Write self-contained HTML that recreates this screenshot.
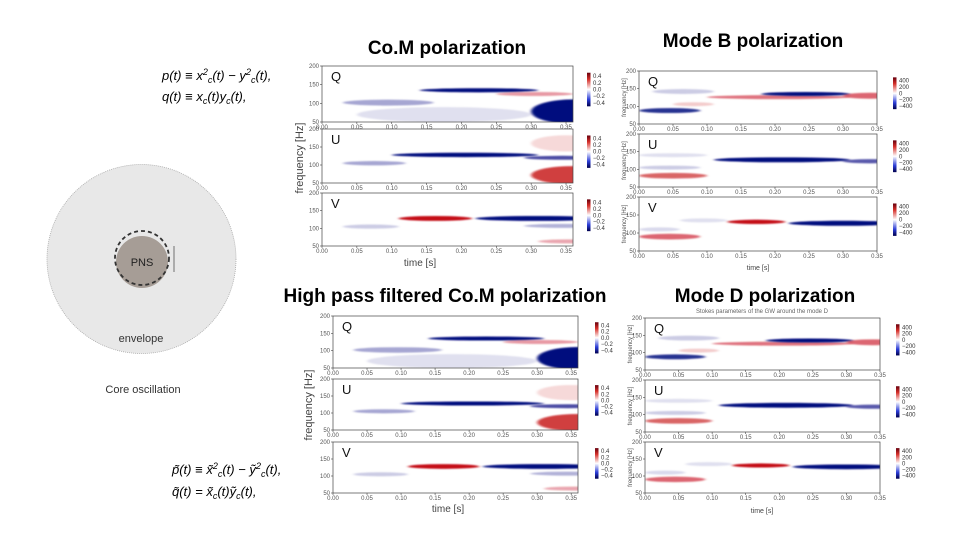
<!DOCTYPE html>
<html><head><meta charset="utf-8"><style>
body{margin:0;background:#fff;}
svg text{font-family:"Liberation Sans",sans-serif;}
</style></head><body>
<svg id="s" width="960" height="540" xmlns="http://www.w3.org/2000/svg">
<defs>
<filter id="bl" x="-30%" y="-100%" width="160%" height="300%"><feGaussianBlur stdDeviation="1.6 0.9"/></filter>
<linearGradient id="cb" x1="0" y1="0" x2="0" y2="1">
<stop offset="0" stop-color="#67000d"/><stop offset="0.2" stop-color="#d6302a"/><stop offset="0.5" stop-color="#ffffff"/><stop offset="0.8" stop-color="#2a3cd6"/><stop offset="1" stop-color="#00004d"/>
</linearGradient>
</defs>
<text x="447" y="54" font-size="19" font-weight="bold" text-anchor="middle">Co.M polarization</text>
<text x="753" y="47" font-size="19" font-weight="bold" text-anchor="middle">Mode B polarization</text>
<text x="445" y="302" font-size="19" font-weight="bold" text-anchor="middle">High pass filtered Co.M polarization</text>
<text x="765" y="302" font-size="19" font-weight="bold" text-anchor="middle">Mode D polarization</text>
<text x="762" y="313" font-size="6" fill="#666" text-anchor="middle">Stokes parameters of the GW around the mode D</text>
<g font-family="Liberation Serif,serif" font-style="italic" font-size="13">
<text x="162" y="80">p(t) ≡ x<tspan font-size="9" dy="-5">2</tspan><tspan font-size="9" dy="8">c</tspan><tspan dy="-3">(t) − y</tspan><tspan font-size="9" dy="-5">2</tspan><tspan font-size="9" dy="8">c</tspan><tspan dy="-3">(t),</tspan></text>
<text x="162" y="101">q(t) ≡ x<tspan font-size="9" dy="3">c</tspan><tspan dy="-3">(t)y</tspan><tspan font-size="9" dy="3">c</tspan><tspan dy="-3">(t),</tspan></text>
</g>
<g font-family="Liberation Serif,serif" font-style="italic" font-size="13">
<text x="172" y="474">p̃(t) ≡ x̃<tspan font-size="9" dy="-5">2</tspan><tspan font-size="9" dy="8">c</tspan><tspan dy="-3">(t) − ỹ</tspan><tspan font-size="9" dy="-5">2</tspan><tspan font-size="9" dy="8">c</tspan><tspan dy="-3">(t),</tspan></text>
<text x="172" y="496">q̃(t) = x̃<tspan font-size="9" dy="3">c</tspan><tspan dy="-3">(t)ỹ</tspan><tspan font-size="9" dy="3">c</tspan><tspan dy="-3">(t),</tspan></text>
</g>
<g>
<circle cx="141.5" cy="259" r="94.5" fill="#e8e8e8" stroke="#aaa" stroke-width="0.8" stroke-dasharray="1 1"/>
<circle cx="142" cy="262" r="26" fill="#a69d96"/>
<circle cx="142" cy="258" r="27" fill="none" stroke="#333" stroke-width="1.8" stroke-dasharray="4 3"/>
<line x1="174" y1="246" x2="174" y2="272" stroke="#999" stroke-width="1.5"/>
<text x="142" y="266" font-size="11" text-anchor="middle" fill="#222">PNS</text>
<text x="141" y="342" font-size="11" text-anchor="middle" fill="#333">envelope</text>
<text x="143" y="393" font-size="11" text-anchor="middle" fill="#333">Core oscillation</text>
</g>
<g id="charts"></g>
</svg>
<script>
// CoM polarization blobs: start time, end time, frequency (Hz), amplitude, bandwidth (Hz)
const comQStart=[0.03,0.14,0.25,0.30,0.05];
const comQEnd=[0.16,0.31,0.36,0.42,0.30];
const comQFreq=[102,135,125,78,70];
const comQAmp=[-0.35,-1.0,0.4,-1.0,-0.12];
const comQBand=[16,11,6,65,40];
const comUStart=[0.03,0.10,0.30,0.29,0.30];
const comUEnd=[0.12,0.31,0.42,0.40,0.40];
const comUFreq=[105,128,72,120,160];
const comUAmp=[-0.35,-1.0,0.8,-0.7,0.15];
const comUBand=[12,12,50,9,45];
const comVStart=[0.03,0.11,0.22,0.29,0.31];
const comVEnd=[0.11,0.215,0.40,0.40,0.40];
const comVFreq=[105,128,128,107,63];
const comVAmp=[-0.2,1.0,-1.0,-0.3,0.35];
const comVBand=[12,14,14,6,7];
// Mode B / Mode D polarization blobs
const modeQStart=[0.0,0.02,0.05,0.10,0.18,0.30];
const modeQEnd=[0.09,0.11,0.11,0.31,0.31,0.38];
const modeQFreq=[88,142,106,126,135,130];
const modeQAmp=[-0.85,-0.2,0.2,0.55,-1.0,0.6];
const modeQBand=[14,14,9,8,9,17];
const modeUStart=[0.0,0.0,0.11,0.30,0.0];
const modeUEnd=[0.10,0.09,0.31,0.38,0.1];
const modeUFreq=[82,105,127,123,140];
const modeUAmp=[0.65,-0.2,-1.0,-0.65,-0.12];
const modeUBand=[16,7,14,12,10];
const modeVStart=[0.0,0.13,0.22,0.06,0.0];
const modeVEnd=[0.09,0.215,0.38,0.13,0.06];
const modeVFreq=[90,131,127,135,110];
const modeVAmp=[0.6,1.0,-1.0,-0.12,-0.15];
const modeVBand=[16,12,14,6,6];
const comTicks=['0.00','0.05','0.10','0.15','0.20','0.25','0.30','0.35'];
const freqTicks=['50','100','150','200'];
const comCbTicks=['0.4','0.2','0.0','−0.2','−0.4'];
const modeCbTicks=['400','200','0','−200','−400'];

const NS='http://www.w3.org/2000/svg';
const root=document.getElementById('charts');
function mk(tag,attrs,parent){const e=document.createElementNS(NS,tag);for(const k in attrs)e.setAttribute(k,attrs[k]);(parent||root).appendChild(e);return e;}

function panel(id,label,box,tmax,st,en,fr,am,bw,cbX,cbTicks,showXLabels,smallYLabel){
  const g=mk('g',{});
  
  
  const xs=t=>box.x+t/tmax*box.w;
  const ys=f=>box.y+box.h-(f-50)/150*box.h;
  const cp=mk('clipPath',{id:'c'+id},g);
  mk('rect',{x:box.x,y:box.y,width:box.w,height:box.h},cp);
  const bg=mk('g',{'clip-path':'url(#c'+id+')'},g);
  mk('rect',{x:box.x,y:box.y,width:box.w,height:box.h,fill:'#fff'},bg);
  for(let i=0;i<st.length;i++){
    const x0=xs(st[i]),x1=xs(en[i]);
    const e=mk('ellipse',{cx:(x0+x1)/2,cy:ys(fr[i]),rx:(x1-x0)/2,ry:Math.max(2,bw[i]/150*box.h/2),
      fill:am[i]>0?'#c40a14':'#00087e','fill-opacity':Math.min(1,Math.abs(am[i])),filter:'url(#bl)'},bg);
    
    
  }
  const fr2=mk('rect',{x:box.x,y:box.y,width:box.w,height:box.h,fill:'none',stroke:'#444','stroke-width':0.7},g);
  
  
  const lt=mk('text',{x:box.x+9,y:box.y+15,'font-size':13,fill:'#111'},g);lt.textContent=label;
  
  
  comTicks.forEach(s=>{const t=parseFloat(s);if(t>tmax+1e-9)return;const x=xs(t);
    mk('line',{x1:x,x2:x,y1:box.y+box.h,y2:box.y+box.h+2,stroke:'#444','stroke-width':0.6},g);
    const tx=mk('text',{x:x,y:box.y+box.h+7,'font-size':6,fill:'#555','text-anchor':'middle'},g);tx.textContent=s;
    
    });
  freqTicks.forEach(s=>{const y=ys(+s);
    mk('line',{x1:box.x-2,x2:box.x,y1:y,y2:y,stroke:'#444','stroke-width':0.6},g);
    const tx=mk('text',{x:box.x-3,y:y+2,'font-size':6,fill:'#555','text-anchor':'end'},g);tx.textContent=s;
    
    });
  if(smallYLabel){const yl=mk('text',{x:0,y:0,'font-size':6,fill:'#555','text-anchor':'middle',transform:'translate('+(box.x-13)+','+(box.y+box.h/2)+') rotate(-90)'},g);yl.textContent='frequency [Hz]';
    
    }
  const cbY=box.y+box.h*0.12,cbH=box.h*0.6;
  const cb=mk('rect',{x:cbX,y:cbY,width:3.5,height:cbH,fill:'url(#cb)'},g);
  
  
  cbTicks.forEach((s,i)=>{const y=cbY+cbH*(0.1+i*0.2);
    const tx=mk('text',{x:cbX+6,y:y+2,'font-size':6,fill:'#333'},g);tx.textContent=s;
    
    });
}
function ttl(txt,x,y,fs,rot,name){const t=mk('text',{x:0,y:0,'font-size':fs,fill:'#444','text-anchor':'middle',transform:'translate('+x+','+y+')'+(rot?' rotate(-90)':'')});t.textContent=txt;
  
  }

panel('com-q','Q',{x:322,y:66,w:251,h:56},0.36,comQStart,comQEnd,comQFreq,comQAmp,comQBand,587,comCbTicks);
panel('com-u','U',{x:322,y:129,w:251,h:54},0.36,comUStart,comUEnd,comUFreq,comUAmp,comUBand,587,comCbTicks);
panel('com-v','V',{x:322,y:193,w:251,h:53},0.36,comVStart,comVEnd,comVFreq,comVAmp,comVBand,587,comCbTicks);
ttl('time [s]',420,266,10,false,'com-x-axis-title');
ttl('frequency [Hz]',303,158,11,true,'com-y-axis-title');
panel('mb-q','Q',{x:639,y:71,w:238,h:53},0.35,modeQStart,modeQEnd,modeQFreq,modeQAmp,modeQBand,893,modeCbTicks,true,true);
panel('mb-u','U',{x:639,y:134,w:238,h:53},0.35,modeUStart,modeUEnd,modeUFreq,modeUAmp,modeUBand,893,modeCbTicks,true,true);
panel('mb-v','V',{x:639,y:197,w:238,h:54},0.35,modeVStart,modeVEnd,modeVFreq,modeVAmp,modeVBand,893,modeCbTicks,true,true);
ttl('time [s]',758,270,7,false,'mode-b-x-axis-title');
panel('hp-q','Q',{x:333,y:316,w:245,h:52},0.36,comQStart,comQEnd,comQFreq,comQAmp,comQBand,595,comCbTicks);
panel('hp-u','U',{x:333,y:379,w:245,h:51},0.36,comUStart,comUEnd,comUFreq,comUAmp,comUBand,595,comCbTicks);
panel('hp-v','V',{x:333,y:442,w:245,h:51},0.36,comVStart,comVEnd,comVFreq,comVAmp,comVBand,595,comCbTicks);
ttl('time [s]',448,512,10,false,'hp-x-axis-title');
ttl('frequency [Hz]',312,405,11,true,'hp-y-axis-title');
panel('md-q','Q',{x:645,y:318,w:235,h:52},0.35,modeQStart,modeQEnd,modeQFreq,modeQAmp,modeQBand,896,modeCbTicks,true,true);
panel('md-u','U',{x:645,y:380,w:235,h:52},0.35,modeUStart,modeUEnd,modeUFreq,modeUAmp,modeUBand,896,modeCbTicks,true,true);
panel('md-v','V',{x:645,y:442,w:235,h:51},0.35,modeVStart,modeVEnd,modeVFreq,modeVAmp,modeVBand,896,modeCbTicks,true,true);
ttl('time [s]',762,513,7,false,'mode-d-x-axis-title');
</script>
</body></html>
